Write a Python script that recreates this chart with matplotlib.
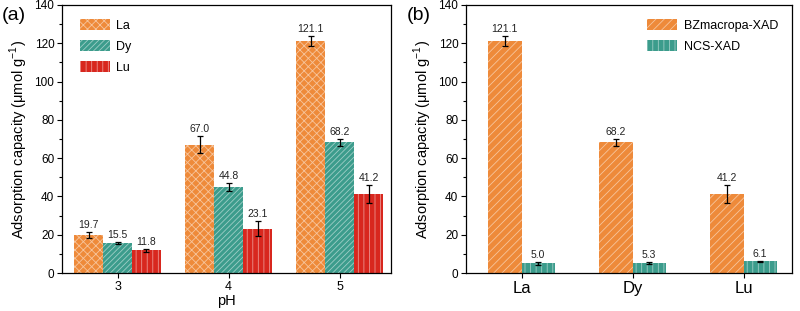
import numpy as np
import matplotlib
matplotlib.use('Agg')
import matplotlib.pyplot as plt

plt.rcParams['font.family'] = ['Liberation Sans', 'DejaVu Sans']
plt.rcParams['mathtext.fontset'] = 'custom'
plt.rcParams['mathtext.rm'] = 'Liberation Sans'
plt.rcParams['hatch.color'] = (1, 1, 1, 0.5)
plt.rcParams['hatch.linewidth'] = 0.6

# Panel (a): adsorption vs pH
ph = [3, 4, 5]
la_a = [19.7, 67.0, 121.1]
dy_a = [15.5, 44.8, 68.2]
lu_a = [11.8, 23.1, 41.2]
la_a_err = [1.5, 4.5, 2.5]
dy_a_err = [0.5, 2.2, 2.0]
lu_a_err = [0.8, 4.0, 4.8]

# Panel (b): BZmacropa-XAD vs NCS-XAD
elements = ['La', 'Dy', 'Lu']
bz = [121.1, 68.2, 41.2]
ncs = [5.0, 5.3, 6.1]
bz_err = [2.5, 2.0, 4.8]
ncs_err = [0.6, 0.6, 0.4]

orange = '#EE8A3A'
teal = '#3C9C8C'
red = '#D8271E'

fig = plt.figure(figsize=(8, 3.11), dpi=100)
ax1 = fig.add_axes([0.0775, 0.122, 0.411, 0.862])
ax2 = fig.add_axes([0.5825, 0.122, 0.408, 0.862])

ylabel = 'Adsorption capacity (μmol g$^{-1}$)'


def draw_bars(ax, x, vals, errs, color, hatch, label, width):
    bars = ax.bar(x, vals, width, color=color, hatch=hatch, linewidth=0, label=label)
    ax.errorbar(x, vals, yerr=errs, fmt='none', ecolor='black', elinewidth=0.9,
                capsize=2.5, capthick=0.9)
    for xi, v, e in zip(x, vals, errs):
        ax.annotate(f'{v:.1f}', (xi, v + e), xytext=(0, 1.5), textcoords='offset points',
                    ha='center', va='bottom', fontsize=7.5, color='#222222')
    return bars


w = 0.26
x = np.array(ph, dtype=float)
draw_bars(ax1, x - w, la_a, la_a_err, orange, 'xxxx', 'La', w)
draw_bars(ax1, x, dy_a, dy_a_err, teal, '//////', 'Dy', w)
draw_bars(ax1, x + w, lu_a, lu_a_err, red, '|||', 'Lu', w)
ax1.set_xlim(2.5, 5.46)
ax1.set_xticks(ph)
ax1.set_xlabel('pH', fontsize=10.5, labelpad=1)
ax1.tick_params(axis='x', labelsize=9)
ax1.legend(loc='upper left', frameon=False, fontsize=9, handlelength=2.4,
           handleheight=1.0, labelspacing=0.65, handletextpad=0.5,
           bbox_to_anchor=(0.02, 0.99))

w2 = 0.3
xb = np.arange(len(elements))
draw_bars(ax2, xb - w2 / 2, bz, bz_err, orange, '////', 'BZmacropa-XAD', w2)
draw_bars(ax2, xb + w2 / 2, ncs, ncs_err, teal, '|||', 'NCS-XAD', w2)
ax2.set_xlim(-0.5, 2.44)
ax2.set_xticks(xb)
ax2.set_xticklabels(elements)
ax2.legend(loc='upper right', frameon=False, fontsize=9, handlelength=2.4,
           handleheight=1.0, labelspacing=0.65, handletextpad=0.5,
           bbox_to_anchor=(0.99, 0.99))

for ax in (ax1, ax2):
    ax.set_ylim(0, 140)
    ax.set_yticks(np.arange(0, 141, 20))
    ax.set_yticks(np.arange(10, 140, 20), minor=True)
    ax.tick_params(axis='both', which='major', length=3.5, width=0.8, pad=2)
    ax.tick_params(axis='y', which='major', labelsize=8.5)
    ax.tick_params(axis='y', which='minor', length=2, width=0.8)
    ax.set_ylabel(ylabel, fontsize=10.5, labelpad=3)
    for s in ax.spines.values():
        s.set_linewidth(0.9)
ax1.tick_params(axis='x', labelsize=9)
ax2.tick_params(axis='x', labelsize=12)

fig.text(0.002, 0.935, '(a)', fontsize=14)
fig.text(0.508, 0.935, '(b)', fontsize=14)

fig.savefig('out.png', dpi=100)
